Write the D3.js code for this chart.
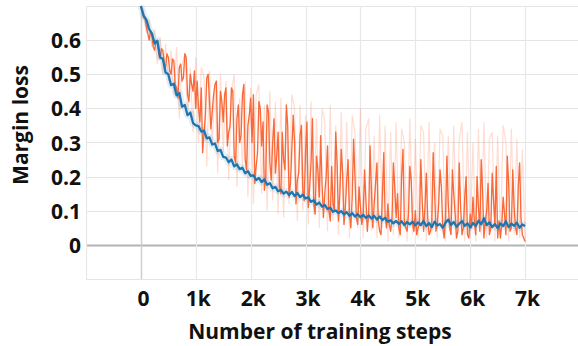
<!DOCTYPE html>
<html>
<head>
<meta charset="utf-8">
<script src="https://cdn.jsdelivr.net/npm/d3@7"></script>
<style>
  html, body { margin: 0; padding: 0; background: #fff; }
  svg { display: block; }
  text { font-family: "Open Sans", "Noto Sans", sans-serif; font-weight: 700; fill: #111; }
</style>
</head>
<body>
<svg id="chart" width="578" height="346"></svg>
<script>
// ---- data ----
const xTicks = [0, 1000, 2000, 3000, 4000, 5000, 6000, 7000];
const xTickLabels = ["0", "1k", "2k", "3k", "4k", "5k", "6k", "7k"];
const xGrid = [-1000, 0, 1000, 2000, 3000, 4000, 5000, 6000, 7000];
const yTicks = [0, 0.1, 0.2, 0.3, 0.4, 0.5, 0.6];
const yTickLabels = ["0", "0.1", "0.2", "0.3", "0.4", "0.5", "0.6"];
const yGrid = [-0.1, 0, 0.1, 0.2, 0.3, 0.4, 0.5, 0.6, 0.7];
const xTitle = "Number of training steps";
const yTitle = "Margin loss";

// orange run, raw values (faint), one every 50 steps
const orangeRawStep = 50;
const orangeRaw = [
  0.70,0.69,0.62,0.66,0.58,0.63,0.53,0.61,0.50,0.59,0.48,
  0.57,0.44,0.58,0.37,0.53,0.56,0.38,0.52,0.33,0.55,
  0.30,0.52,0.49,0.23,0.51,0.29,0.47,0.21,0.50,0.27,
  0.48,0.19,0.45,0.50,0.17,0.43,0.23,0.48,0.14,0.46,
  0.12,0.44,0.47,0.15,0.41,0.10,0.45,0.13,0.42,0.09,
  0.43,0.08,0.39,0.12,0.44,0.40,0.07,0.41,0.10,0.38,
  0.06,0.42,0.09,0.37,0.05,0.40,0.36,0.04,0.41,0.07,
  0.35,0.03,0.39,0.06,0.36,0.02,0.38,0.33,0.05,0.40,
  0.02,0.34,0.37,0.04,0.32,0.02,0.38,0.05,0.35,0.01,
  0.33,0.03,0.36,0.02,0.34,0.30,0.01,0.37,0.03,0.31,
  0.02,0.35,0.33,0.01,0.36,0.03,0.30,0.02,0.34,0.32,
  0.01,0.32,0.04,0.35,0.02,0.31,0.36,0.01,0.33,0.02,
  0.30,0.01,0.34,0.03,0.36,0.02,0.31,0.33,0.01,0.32,
  0.02,0.35,0.30,0.01,0.34,0.03,0.31,0.02,0.28,0.01
];
// orange run, smoothed values (solid), one every 25 steps
const orangeStep = 25;
const orangeSmooth = [
  0.70,0.68,0.665,0.66,0.64,0.62,0.60,0.625,0.615,0.58,0.57,0.60,0.59,0.56,0.545,0.575,0.57,0.53,0.52,0.56,0.55,
  0.51,0.50,0.545,0.54,0.47,0.46,0.43,0.52,0.53,0.48,0.49,0.56,0.55,0.44,0.42,0.50,0.47,0.45,0.51,0.40,
  0.48,0.40,0.36,0.46,0.27,0.33,0.38,0.49,0.50,0.42,0.34,0.39,0.44,0.47,0.48,0.30,0.31,0.45,0.42,0.36,
  0.44,0.46,0.29,0.33,0.35,0.46,0.45,0.26,0.24,0.37,0.41,0.30,0.32,0.44,0.47,0.25,0.22,0.35,0.38,0.43,
  0.30,0.44,0.18,0.23,0.27,0.42,0.40,0.29,0.36,0.16,0.20,0.41,0.39,0.24,0.19,0.30,0.37,0.21,0.26,0.33,
  0.17,0.15,0.33,0.25,0.22,0.41,0.35,0.14,0.18,0.28,0.38,0.30,0.12,0.19,0.21,0.32,0.35,0.16,0.13,0.27,
  0.36,0.11,0.17,0.24,0.37,0.12,0.09,0.26,0.22,0.14,0.32,0.18,0.08,0.15,0.20,0.29,0.10,0.07,0.23,0.12,
  0.10,0.33,0.24,0.07,0.15,0.28,0.21,0.06,0.11,0.19,0.25,0.09,0.05,0.14,0.31,0.20,0.08,0.06,0.17,0.11,
  0.06,0.09,0.22,0.13,0.04,0.09,0.29,0.16,0.05,0.12,0.18,0.24,0.07,0.04,0.03,0.15,0.27,0.08,0.05,0.12,
  0.06,0.04,0.08,0.24,0.17,0.08,0.15,0.05,0.03,0.20,0.28,0.07,0.05,0.04,0.09,0.23,0.19,0.06,0.04,0.10,
  0.03,0.05,0.06,0.25,0.13,0.04,0.11,0.21,0.08,0.03,0.04,0.07,0.27,0.16,0.04,0.06,0.12,0.22,0.17,0.05,
  0.02,0.08,0.26,0.12,0.05,0.03,0.22,0.15,0.09,0.02,0.04,0.24,0.11,0.03,0.05,0.14,0.20,0.03,0.02,0.09,
  0.05,0.14,0.07,0.03,0.20,0.11,0.04,0.25,0.16,0.02,0.07,0.10,0.18,0.03,0.05,0.21,0.13,0.06,0.23,0.02,
  0.07,0.02,0.06,0.14,0.09,0.03,0.26,0.18,0.04,0.05,0.22,0.11,0.05,0.03,0.17,0.24,0.08,0.03,0.02,0.01
];
// blue run, one value every 50 steps
const blueStep = 50;
const blueSmooth = [
  0.70,0.672,0.66,0.632,0.62,0.59,0.598,0.55,0.545,0.505,0.50,
  0.468,0.472,0.438,0.445,0.405,0.41,0.38,0.388,0.357,0.35,
  0.348,0.332,0.335,0.312,0.315,0.294,0.297,0.275,0.278,0.258,
  0.256,0.242,0.25,0.23,0.236,0.222,0.226,0.21,0.216,0.202,
  0.204,0.19,0.196,0.184,0.192,0.176,0.181,0.166,0.17,0.157,
  0.161,0.15,0.156,0.146,0.155,0.143,0.152,0.14,0.147,0.136,
  0.139,0.126,0.131,0.118,0.124,0.112,0.117,0.105,0.109,0.097,
  0.101,0.093,0.099,0.089,0.096,0.085,0.093,0.083,0.09,0.081,
  0.088,0.079,0.086,0.077,0.085,0.074,0.083,0.073,0.079,0.068,
  0.072,0.063,0.07,0.061,0.069,0.058,0.067,0.06,0.068,0.057,
  0.066,0.058,0.07,0.055,0.064,0.052,0.068,0.057,0.061,0.05,
  0.065,0.074,0.058,0.067,0.053,0.062,0.07,0.056,0.063,0.051,
  0.064,0.055,0.071,0.06,0.078,0.058,0.066,0.052,0.061,0.049,
  0.063,0.055,0.069,0.052,0.062,0.056,0.065,0.05,0.06,0.055
];

// ---- layout ----
const W = 578, H = 346;
const plot = { left: 86, right: 580, top: 6, bottom: 279 };
const svg = d3.select("#chart");

const x = d3.scaleLinear().domain([-1000, 8000]).range([plot.left, plot.right]);
const y = d3.scaleLinear().domain([-0.1, 0.7]).range([plot.bottom, plot.top]);

// grid
const grid = svg.append("g");
grid.selectAll("line.h").data(yGrid).join("line")
  .attr("x1", plot.left).attr("x2", W)
  .attr("y1", d => Math.round(y(d)) + 0.5).attr("y2", d => Math.round(y(d)) + 0.5)
  .attr("stroke", d => d === 0 ? "#b3b3b3" : "#e4e4e4")
  .attr("stroke-width", d => d === 0 ? 2 : 1.2);
grid.selectAll("line.v").data(xGrid).join("line")
  .attr("y1", plot.top).attr("y2", plot.bottom)
  .attr("x1", d => Math.round(x(d)) + 0.5).attr("x2", d => Math.round(x(d)) + 0.5)
  .attr("stroke", d => d === 0 ? "#cfcfcf" : "#e8e8e8")
  .attr("stroke-width", d => d === 0 ? 1.5 : 1.2);

// series
const oRawLine = d3.line().x((d, i) => x(i * orangeRawStep)).y(d => y(d));
const oLine = d3.line().x((d, i) => x(i * orangeStep)).y(d => y(d));
const bLine = d3.line().x((d, i) => x(i * blueStep)).y(d => y(d));

svg.append("path").datum(orangeRaw).attr("d", oRawLine)
  .attr("fill", "none").attr("stroke", "#ff7043").attr("stroke-opacity", 0.24).attr("stroke-width", 1.2);
svg.append("path").datum(blueSmooth).attr("d", bLine)
  .attr("fill", "none").attr("stroke", "#1f78b4").attr("stroke-opacity", 0.12).attr("stroke-width", 7)
  .attr("stroke-linejoin", "round");
svg.append("path").datum(orangeSmooth).attr("d", oLine)
  .attr("fill", "none").attr("stroke", "#f9622f").attr("stroke-opacity", 0.95).attr("stroke-width", 1.35)
  .attr("stroke-linejoin", "round");
svg.append("path").datum(blueSmooth).attr("d", bLine)
  .attr("fill", "none").attr("stroke", "#1d76b0").attr("stroke-width", 2.3)
  .attr("stroke-linejoin", "round");

// axes (labels only)
const xAxis = d3.axisBottom(x).tickValues(xTicks)
  .tickFormat((d, i) => xTickLabels[i]).tickSize(0).tickPadding(0);
const gx = svg.append("g").attr("transform", `translate(0, 306)`).call(xAxis);
gx.select(".domain").remove();
gx.selectAll("text").attr("dy", 0).attr("dx", 2)
  .style("font-size", "21px").style("font-family", '"Open Sans", sans-serif').style("font-weight", 700).attr("fill", "#111");

const yAxis = d3.axisLeft(y).tickValues(yTicks)
  .tickFormat((d, i) => yTickLabels[i]).tickSize(0).tickPadding(0);
const gy = svg.append("g").attr("transform", `translate(81, 0)`).call(yAxis);
gy.select(".domain").remove();
gy.selectAll("text").attr("dy", "0.36em")
  .style("font-size", "21px").style("font-family", '"Open Sans", sans-serif').style("font-weight", 700).attr("fill", "#111");

// titles
svg.append("text").attr("x", 320).attr("y", 339).attr("text-anchor", "middle")
  .style("font-size", "21px").text(xTitle);
svg.append("text").attr("transform", "translate(28,125) rotate(-90)").attr("text-anchor", "middle")
  .style("font-size", "21px").text(yTitle);
</script>
</body>
</html>
